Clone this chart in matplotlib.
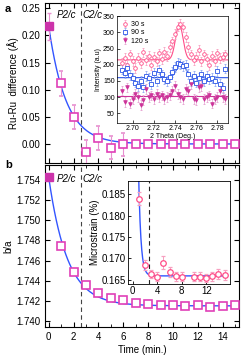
import numpy as np
import matplotlib.pyplot as plt
from matplotlib.ticker import MultipleLocator, FormatStrFormatter

plt.rcParams['font.family'] = ['Liberation Sans', 'DejaVu Sans']
plt.rcParams['xtick.direction'] = 'in'
plt.rcParams['ytick.direction'] = 'in'

# Panel a: Ru-Ru difference vs time
time = np.arange(0, 16)
ruru = [0.217, 0.112, 0.050, -0.015, 0.011, -0.007, -0.001,
        0.0, 0.0, 0.0, 0.0, 0.0, 0.0, 0.0, 0.0, 0.0]
ruru_err = [0.025, 0.023, 0.022, 0.023, 0.022, 0.021, 0.022,
            0, 0, 0, 0, 0, 0, 0, 0, 0]
ruru_fit = (0.217, 1.4, 0.0)   # amplitude, tau, offset

# Panel b: b/a vs time
ba = [1.7543, 1.7475, 1.7449, 1.7436, 1.7428, 1.7423, 1.7421, 1.7418,
      1.7417, 1.7416, 1.7416, 1.7415, 1.7416, 1.7414, 1.7415, 1.7416]
ba_fit = (0.0128, 1.5, 1.7415)

# Inset a: XRD peaks
two_theta = np.round(2.690 + 0.0025 * np.arange(40), 4)
i30 = [205, 220, 200, 232, 212, 190, 222, 205, 238, 215,
       228, 200, 225, 210, 235, 218, 240, 228, 255, 272,
       295, 318, 325, 316, 285, 255, 232, 215, 225, 245,
       210, 232, 218, 200, 228, 212, 235, 220, 225, 232]
i90 = [185, 175, 190, 168, 160, 145, 135, 150, 130, 165,
       158, 140, 175, 150, 185, 170, 155, 150, 162, 178,
       192, 205, 203, 195, 200, 172, 150, 165, 145, 160,
       170, 150, 165, 155, 160, 150, 180, 140, 128, 188]
i120 = [120, 85, 130, 80, 95, 110, 100, 75, 90, 125,
        100, 105, 95, 110, 100, 105, 95, 100, 105, 120,
        135, 110, 100, 95, 125, 120, 140, 95, 90, 130,
        135, 95, 100, 105, 80, 95, 100, 120, 100, 95]
xrd_err = 15
fit30 = (215, 110, 2.744, 0.0035)
fit90 = (160, 45, 2.746, 0.0042)
fit120 = (103, 0, 2.745, 0.004)

# Inset b: microstrain
ms_time = [1, 2, 3, 4, 5, 6, 7, 8, 10, 11, 12, 13, 14, 15]
ms = [0.1840, 0.1684, 0.1663, 0.1657, 0.1690, 0.1668, 0.1658, 0.1657,
      0.1657, 0.1657, 0.1654, 0.1658, 0.1663, 0.1661]
ms_err = [0.0015, 0.0012, 0.0010, 0.0010, 0.0015, 0.0012, 0.0010, 0.0010,
          0.0010, 0.0010, 0.0010, 0.0010, 0.0012, 0.0012]
ms_fit = (0.29, 0.38, 0.1659)

t_trans = 2.6
pink = '#e040b8'
pink_err = '#e890d0'
blue = '#3355ff'

def expdecay(t, p):
    return p[0] * np.exp(-t / p[1]) + p[2]

def gauss(x, p):
    return p[0] + p[1] * np.exp(-(x - p[2]) ** 2 / (2 * p[3] ** 2))

fig = plt.figure(figsize=(2.43, 3.55), dpi=100)
ax1 = fig.add_axes([0.185, 0.541, 0.798, 0.451])
ax2 = fig.add_axes([0.185, 0.079, 0.798, 0.456])

tt = np.linspace(0, 15.3, 200)
fs = 7

# ---- panel a
ax1.plot(tt, expdecay(tt, ruru_fit), color=blue, lw=1)
ax1.errorbar(time[1:], ruru[1:], yerr=ruru_err[1:], fmt='s', ms=5.5, mfc='white',
             mec=pink, mew=1.2, ecolor=pink_err, elinewidth=0.8, capsize=1.5, zorder=3)
ax1.errorbar(time[:1], ruru[:1], yerr=ruru_err[:1], fmt='s', ms=5.5, mfc='#cc33aa',
             mec='#cc33aa', ecolor=pink_err, elinewidth=0.8, capsize=1.5, zorder=3)
ax1.axvline(t_trans, color='#444444', lw=0.8, dashes=(4, 3))
ax1.set_xlim(-0.3, 15.3)
ax1.set_ylim(-0.035, 0.26)
ax1.yaxis.set_major_locator(MultipleLocator(0.05))
ax1.yaxis.set_major_formatter(FormatStrFormatter('%.2f'))
ax1.xaxis.set_major_locator(MultipleLocator(2))
ax1.xaxis.set_minor_locator(MultipleLocator(1))
ax1.tick_params(labelbottom=False, labelsize=fs, top=True, right=True, which='both')
ax1.set_ylabel('Ru-Ru  difference (Å)', fontsize=fs, labelpad=2)
ax1.text(1.4, 0.238, 'P2/c', style='italic', fontsize=fs, ha='center', va='center')
ax1.text(3.5, 0.238, 'C2/c', style='italic', fontsize=fs, ha='center', va='center')
fig.text(0.02, 0.975, 'a', fontsize=8, weight='bold', va='center')
fig.text(0.02, 0.535, 'b', fontsize=8, weight='bold', va='center')

# ---- panel b
ax2.plot(tt, expdecay(tt, ba_fit), color=blue, lw=1)
ax2.plot(time[1:], ba[1:], 's', ms=5.5, mfc='white', mec=pink, mew=1.2, zorder=3)
ax2.plot(time[:1], ba[:1], 's', ms=5.5, mfc='#cc33aa', mec='#cc33aa', zorder=3)
ax2.axvline(t_trans, color='#444444', lw=0.8, dashes=(4, 3))
ax2.set_xlim(-0.3, 15.3)
ax2.set_ylim(1.7394, 1.7555)
ax2.yaxis.set_major_locator(MultipleLocator(0.002))
ax2.yaxis.set_major_formatter(FormatStrFormatter('%.3f'))
ax2.xaxis.set_major_locator(MultipleLocator(2))
ax2.xaxis.set_minor_locator(MultipleLocator(1))
ax2.tick_params(labelsize=fs, top=True, right=True, which='both')
ax2.set_ylabel('b/a', fontsize=fs, labelpad=2)
ax2.set_xlabel('Time (min.)', fontsize=fs, labelpad=2)
ax2.text(1.4, 1.7541, 'P2/c', style='italic', fontsize=fs, ha='center', va='center')
ax2.text(3.5, 1.7541, 'C2/c', style='italic', fontsize=fs, ha='center', va='center')

# ---- inset a
fsi = 5
ia = fig.add_axes([0.481, 0.6535, 0.457, 0.301])
xx = np.linspace(2.685, 2.79, 300)
series = [(i30, fit30, 'o', '#ff4d88', '#f7a0c0', 'white', '30 s'),
          (i90, fit90, 's', '#2a55e8', '#90a8f0', 'white', '90 s'),
          (i120, fit120, 'v', '#cc3399', '#e6a0d0', '#cc3399', '120 s')]
for vals, fp, mk, col, ecol, fc, lab in series:
    ia.plot(xx, gauss(xx, fp), color=col, lw=0.8)
    ia.errorbar(two_theta, vals, yerr=xrd_err, fmt=mk, ms=2.6, mfc=fc, mec=col, mew=0.6,
                ecolor=ecol, elinewidth=0.5, capsize=1, label=lab)
ia.set_xlim(2.685, 2.79)
ia.xaxis.set_major_locator(MultipleLocator(0.02))
ia.xaxis.set_major_formatter(FormatStrFormatter('%.2f'))
ia.yaxis.set_major_locator(MultipleLocator(50))
ia.set_ylim(20, 350)
ia.tick_params(labelsize=fsi, length=2, width=0.5, pad=1.5)
ia.set_xlabel('2 Theta (Deg.)', fontsize=fsi, labelpad=1)
ia.set_ylabel('Intensity (a.u)', fontsize=fsi, labelpad=1)
for s in ia.spines.values():
    s.set_linewidth(0.5)
ia.legend(loc='upper left', fontsize=fsi, frameon=False, handlelength=1,
          handletextpad=0.4, labelspacing=0.2, borderaxespad=0.3)

# ---- inset b
ib = fig.add_axes([0.525, 0.2, 0.422, 0.291])
tm = np.linspace(0.9, 15, 200)
ib.plot(tm, expdecay(tm, ms_fit), color=blue, lw=1)
ib.errorbar(ms_time, ms, yerr=ms_err, fmt='o', ms=4, mfc='white', mec='#ff4d88', mew=0.9,
            ecolor='#f7a0c0', elinewidth=0.7, capsize=1.5, zorder=3)
ib.axvline(t_trans, color='#222222', lw=0.8, dashes=(4, 3))
ib.set_xlim(-0.85, 15.9)
ib.set_ylim(0.164, 0.1882)
ib.xaxis.set_major_locator(MultipleLocator(4))
ib.yaxis.set_major_locator(MultipleLocator(0.005))
ib.yaxis.set_major_formatter(FormatStrFormatter('%.3f'))
ib.tick_params(labelsize=fs, length=2.5, width=0.6, pad=1.5)
ib.set_ylabel('Microstrain (%)', fontsize=fs, labelpad=1)
for s in ib.spines.values():
    s.set_linewidth(0.6)

fig.savefig('out.png', dpi=100)
